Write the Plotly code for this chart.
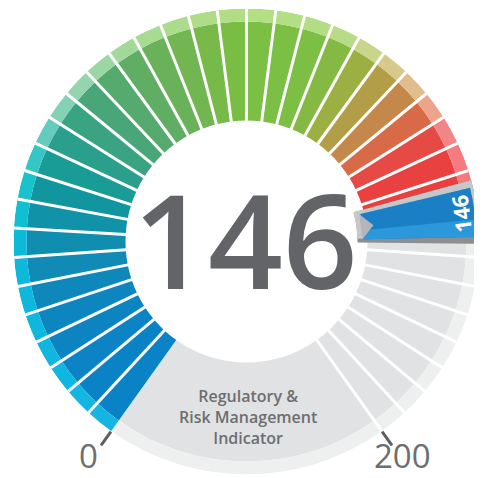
import math
import plotly.graph_objects as go

# ── data ──────────────────────────────────────────────────────────────────────
SCORE_LABEL = "146"
SCALE_MIN, SCALE_MAX = 0, 200
SCALE_LABELS = ["0", "200"]
INDICATOR_LINES = ["Regulatory &", "Risk Management", "Indicator"]

# dial segments, 5 points each (lower bound of every segment)
SEGMENT_FROM = [0, 5, 10, 15, 20, 25, 30, 35, 40, 45,
                50, 55, 60, 65, 70, 75, 80, 85, 90, 95,
                100, 105, 110, 115, 120, 125, 130, 135, 140, 145,
                150, 155, 160, 165, 170, 175, 180, 185, 190, 195]
SEGMENT_SIZE = 5
FILLED = 31          # coloured segments counted on the dial
POINTER_AT = 157.2   # where the flag sits on the dial

SEGMENT_COLORS = [
    "#0a83c6", "#0a83c6", "#0b83c4", "#0c84c2", "#0d86bf", "#0e88bb", "#0f8bb5",
    "#108eaf", "#1092a8", "#1196a0", "#199b96", "#2a9f8c", "#3aa382", "#48a678",
    "#55aa6e", "#5fae64", "#69b25a", "#71b650", "#77ba49", "#7abd45", "#7bbf44",
    "#7bbf44", "#7dbe44", "#84ba44", "#9caf42", "#b19e46", "#c4894a", "#d86a47",
    "#e54b44", "#e8413f", "#e8403f",
]
BAND_COLORS = [
    "#14b5e0", "#12b6e0", "#10b6df", "#10b6de", "#0fb7dd", "#0eb7dc", "#0db8dc",
    "#0cbad8", "#10bfd2", "#1ac3cc", "#35c6c6", "#65cbbf", "#85d1b6", "#94d4ae",
    "#9bd7a5", "#a2d99b", "#a7da92", "#abdc8b", "#afdd87", "#b1de85", "#b2de84",
    "#b2de84", "#b3dd85", "#b8dc86", "#c9d58a", "#d8c98a", "#e2bd8c", "#eca48a",
    "#f28585", "#f47c80", "#f47a80",
]

# ── geometry / style ──────────────────────────────────────────────────────────
PAGE_W, PAGE_H = 482, 478
OFF = 8                           # body margin of the html page
W, H = PAGE_W - OFF, PAGE_H - OFF
CX, CY = 246.5, 241.5             # dial centre, page px from top-left
R_IN, R_BAND, R_OUT = 121, 220, 233
START = 234.5                     # where 0 sits (deg, counter-clockwise from east)
SWEEP = 289
DEG = SWEEP / (SCALE_MAX - SCALE_MIN)

GRAY = "#e1e2e3"
GRAY_BAND = "#eeefef"
TEXT = "#636467"
LABEL = "#6d6e70"
FONT = "Open Sans"


def _xy(px, py):
    """page pixel -> paper fraction"""
    return (px - OFF) / W, 1 - (py - OFF) / H


def _polar_xy(theta, r):
    a = math.radians(START - theta)
    return _xy(CX + r * math.cos(a), CY - r * math.sin(a))


def _bar(theta, width, r0, r1, color):
    return go.Barpolar(
        theta=[theta], width=[width], base=[r0], r=[r1 - r0],
        marker=dict(color=color, line=dict(width=0)), hoverinfo="skip",
    )


fig = go.Figure()

# bottom wedge (outside the scale)
gap_theta = (SWEEP + 360) / 2
fig.add_trace(_bar(gap_theta, 360 - SWEEP, R_IN, R_BAND, GRAY))
fig.add_trace(_bar(gap_theta, 360 - SWEEP, R_BAND, R_OUT, GRAY_BAND))

# segments
thetas = [(s - SCALE_MIN + SEGMENT_SIZE / 2) * DEG for s in SEGMENT_FROM]
n = len(SEGMENT_FROM)
inner_cols = SEGMENT_COLORS + [GRAY] * (n - FILLED)
band_cols = BAND_COLORS + [GRAY_BAND] * (n - FILLED)
for base, top, cols in [(R_IN, R_BAND, inner_cols), (R_BAND, R_OUT, band_cols)]:
    fig.add_trace(go.Barpolar(
        theta=thetas, width=[SEGMENT_SIZE * DEG] * n,
        base=[base] * n, r=[top - base] * n,
        marker=dict(color=cols, line=dict(width=0)), hoverinfo="skip",
    ))

# pointer flag: silver frame, blue body
p_theta = (POINTER_AT - SCALE_MIN) * DEG
fig.add_trace(_bar(p_theta, 15.8, 111, R_OUT, "#8c8e91"))
fig.add_trace(_bar(p_theta - 1.0, 13.8, 111, R_OUT, "#c6c7c9"))
fig.add_trace(_bar(p_theta, 12.4, 117, R_OUT - 3, "#1b7fc5"))
fig.add_trace(_bar(p_theta + 4.0, 4.4, 117, R_OUT - 3, "#2a98da"))

# white dividers between segments (not under the flag)
flag_lo, flag_hi = p_theta - 8, p_theta + 8
div_r, div_t = [], []
for s in SEGMENT_FROM[1:] + [SCALE_MAX]:
    t = (s - SCALE_MIN) * DEG
    if flag_lo < t < flag_hi:
        continue
    div_r += [R_IN - 4, R_OUT, None]
    div_t += [t, t, None]
fig.add_trace(go.Scatterpolar(
    r=div_r, theta=div_t, mode="lines",
    line=dict(color="white", width=3), hoverinfo="skip",
))

# swallow-tail notch at the inner end of the flag
fig.add_trace(go.Scatterpolar(
    r=[116, 128, 116, 116], theta=[p_theta - 6.2, p_theta, p_theta + 6.2, p_theta - 6.2],
    mode="lines", fill="toself", fillcolor="#b4b5b8",
    line=dict(width=0, color="#b4b5b8"), hoverinfo="skip",
))

# big score
x, y = _xy(245.5, 238.5)
fig.add_annotation(
    x=x, y=y, xref="paper", yref="paper",
    text=SCORE_LABEL, showarrow=False, xanchor="center", yanchor="middle",
    font=dict(family=FONT, size=131, color=TEXT, weight=600),
)
# score on the flag
x, y = _polar_xy(p_theta, 216)
fig.add_annotation(
    x=x, y=y, xref="paper", yref="paper", text=f"<b>{SCORE_LABEL}</b>",
    showarrow=False, textangle=-97, xanchor="center", yanchor="middle",
    font=dict(family=FONT, size=22, color="white"),
)
# scale end labels
for theta, r, txt in [(1.0, 266, SCALE_LABELS[0]), (SWEEP - 0.6, 264, SCALE_LABELS[1])]:
    x, y = _polar_xy(theta, r)
    fig.add_annotation(
        x=x, y=y, xref="paper", yref="paper", text=txt, showarrow=False,
        xanchor="center", yanchor="middle", height=30, valign="middle",
        font=dict(family=FONT, size=33, color=LABEL),
    )
# indicator name
x, y = _xy(247.5, 417)
fig.add_annotation(
    x=x, y=y, xref="paper", yref="paper",
    text="<br>".join(INDICATOR_LINES), showarrow=False,
    xanchor="center", yanchor="middle", align="center",
    font=dict(family=FONT, size=16, color=LABEL, weight=600),
)

fig.update_layout(
    width=W, height=H,
    margin=dict(l=0, r=0, t=0, b=0),
    paper_bgcolor="white",
    showlegend=False,
    polar=dict(
        domain=dict(x=[(CX - OFF - R_OUT) / W, (CX - OFF + R_OUT) / W],
                    y=[1 - (CY - OFF + R_OUT) / H, 1 - (CY - OFF - R_OUT) / H]),
        bgcolor="white",
        barmode="overlay",
        radialaxis=dict(visible=False, range=[0, R_OUT]),
        angularaxis=dict(
            rotation=START, direction="clockwise",
            showgrid=False, showline=False, showticklabels=False,
            tickmode="array", tickvals=[0, SWEEP],
            ticks="outside", ticklen=17, tickwidth=2.5, tickcolor="#5d5e60",
        ),
    ),
)

fig.write_html("out.html")
